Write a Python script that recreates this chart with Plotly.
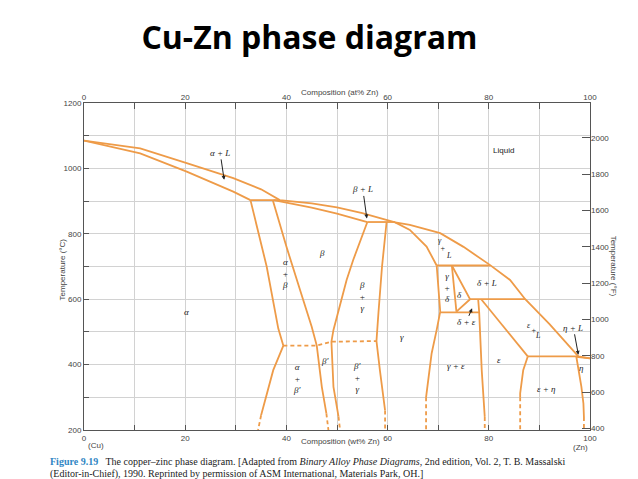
import plotly.graph_objects as go

# ---------------- data (wt% Zn, temperature °C) ----------------
liquidus_w = [0, 11.1, 20.3, 29.5, 35.0, 38.7, 45.0, 50.0, 55.0, 60.0, 61.5, 64.4, 70.4, 75.0, 80.2, 84.2, 87.2, 92.0, 96.7, 97.7, 100]
liquidus_t = [1085, 1061, 1016, 970, 936, 903, 893, 881, 863, 842, 835, 827, 802, 760, 705, 659, 600, 524, 445, 425, 419]

alpha_solidus_w = [0, 11.1, 20.3, 29.5, 32.9]
alpha_solidus_t = [1085, 1046, 990, 929, 903]

alpha_bound_w = [32.9, 36.1, 38.4, 39.4, 37.4, 35.4, 35.0]
alpha_bound_t = [903, 700, 510, 458, 383, 261, 245]
alpha_bound_dash_w = [35.0, 34.4]
alpha_bound_dash_t = [245, 200]

beta_left_w = [37.3, 40.0, 42.7, 45.0, 46.0, 47.0, 47.9]
beta_left_t = [903, 761, 628, 516, 458, 332, 251]
beta_left_dash_w = [47.9, 48.3]
beta_left_dash_t = [251, 200]

beta_solidus_w = [37.5, 45.0, 50.0, 56.0]
beta_solidus_t = [903, 880, 862, 836]

beta_right_w = [56.0, 53.2, 51.9, 49.3, 48.9, 49.3, 50.3]
beta_right_t = [836, 720, 659, 506, 470, 332, 241]
beta_right_dash_w = [50.3, 50.6]
beta_right_dash_t = [241, 200]

gamma_left_w = [59.8, 58.9, 58.2, 57.8, 58.5, 59.2, 59.5]
gamma_left_t = [836, 700, 560, 472, 380, 300, 260]
gamma_left_dash_w = [59.5, 59.5]
gamma_left_dash_t = [260, 200]

order_w = [39.4, 46.0, 48.9, 57.8]
order_t = [458, 458, 470, 472]

gamma_solidus_w = [61.5, 64.4, 67.7, 69.7]
gamma_solidus_t = [835, 812, 761, 703]

gamma_right_w = [69.7, 70.4, 69.7, 68.7, 67.7, 67.6]
gamma_right_t = [703, 562, 506, 434, 312, 300]
gamma_right_dash_w = [67.6, 67.6]
gamma_right_dash_t = [300, 200]

delta_left_w = [72.7, 73.6]
delta_left_t = [703, 562]
delta_right_w = [72.7, 76.3, 73.6]
delta_right_t = [703, 600, 562]

eps_left_w = [77.9, 78.1, 78.6, 79.2, 79.2]
eps_left_t = [600, 560, 383, 261, 240]
eps_left_dash_w = [79.2, 79.2]
eps_left_dash_t = [240, 200]

eps_solidus_w = [78.5, 87.7]
eps_solidus_t = [600, 425]

eps_right_w = [87.7, 86.8, 86.2, 86.2]
eps_right_t = [425, 383, 312, 300]
eps_right_dash_w = [86.2, 86.2]
eps_right_dash_t = [300, 200]

eta_w = [97.3, 98.3, 98.7, 98.8]
eta_t = [424, 332, 281, 240]
eta_dash_w = [98.8, 98.8]
eta_dash_t = [240, 200]
eta_solidus_w = [97.3, 100]
eta_solidus_t = [424, 419]

# isotherms: (w_start, w_end, T)
iso_w0 = [32.9, 56.0, 69.7, 70.4, 76.3, 87.7]
iso_w1 = [38.7, 61.5, 80.2, 78.1, 87.2, 97.7]
iso_t = [903, 836, 703, 560, 600, 425]

# region labels
label_text = ["Liquid", "β", "α<br>+<br>β", "α", "β<br>+<br>γ", "γ", "β′", "α<br>+<br>β′",
              "β′<br>+<br>γ", "γ<br>+<br>δ", "δ", "δ + <i>L</i>", "γ + ε", "ε", "η", "ε + η"]
label_w = [82.9, 47.0, 39.7, 20.3, 54.9, 62.8, 47.6, 42.0, 53.9, 71.7, 74.2, 79.7, 73.6, 82.1, 98.3, 91.4]
label_t = [1054, 740, 680, 562, 607, 485, 412, 356, 360, 636, 613, 649, 397, 414, 389, 325]

# staggered labels
stag_text = ["γ", "+", "<i>L</i>", "ε", "+", "<i>L</i>"]
stag_w = [70.4, 70.9, 72.1, 88.0, 88.9, 89.7]
stag_t = [779, 756, 734, 520, 505, 489]

# arrowed labels: text, tip (w, T), offset px
arrow_text = ["α + <i>L</i>", "β + <i>L</i>", "δ + ε", "η + <i>L</i>"]
arrow_w = [27.7, 55.9, 76.7, 97.7]
arrow_t = [965, 847, 572, 430]
arrow_ax = [-4, -4, -6, -5]
arrow_ay = [-27, -29, 14, -27]

wt_ticks = [0, 10, 20, 30, 40, 50, 60, 70, 80, 90, 100]
wt_labels = ["0", "", "20", "", "40", "", "60", "", "80", "", "100"]
c_ticks = [200, 300, 400, 500, 600, 700, 800, 900, 1000, 1100, 1200]
c_labels = ["200", "", "400", "", "600", "", "800", "", "1000", "", "1200"]
f_ticks = [400, 600, 800, 1000, 1200, 1400, 1600, 1800, 2000, 2200]

# ---------------- figure ----------------
ORANGE = "#EE9B48"
fig = go.Figure()

def add_line(w, t, dash="solid"):
    fig.add_trace(go.Scatter(x=w, y=t, mode="lines", showlegend=False, hoverinfo="skip",
                             line=dict(color=ORANGE, width=1.8, dash=dash)))

solid_curves = [(liquidus_w, liquidus_t), (alpha_solidus_w, alpha_solidus_t),
                (alpha_bound_w, alpha_bound_t), (beta_left_w, beta_left_t),
                (beta_solidus_w, beta_solidus_t), (beta_right_w, beta_right_t),
                (gamma_left_w, gamma_left_t), (gamma_solidus_w, gamma_solidus_t),
                (gamma_right_w, gamma_right_t), (delta_left_w, delta_left_t),
                (delta_right_w, delta_right_t), (eps_left_w, eps_left_t),
                (eps_solidus_w, eps_solidus_t), (eps_right_w, eps_right_t),
                (eta_w, eta_t), (eta_solidus_w, eta_solidus_t)]
dash_curves = [(alpha_bound_dash_w, alpha_bound_dash_t), (beta_left_dash_w, beta_left_dash_t),
               (beta_right_dash_w, beta_right_dash_t), (gamma_left_dash_w, gamma_left_dash_t),
               (gamma_right_dash_w, gamma_right_dash_t), (eps_left_dash_w, eps_left_dash_t),
               (eps_right_dash_w, eps_right_dash_t), (eta_dash_w, eta_dash_t),
               (order_w, order_t)]
for w, t in solid_curves:
    add_line(w, t)
for w, t in dash_curves:
    add_line(w, t, "4px,3px")
for a, b, t in zip(iso_w0, iso_w1, iso_t):
    add_line([a, b], [t, t])

# invisible trace for the secondary axes
fig.add_trace(go.Scatter(x=[None], y=[None], xaxis="x2", yaxis="y2", showlegend=False, hoverinfo="skip"))

LBL = dict(family="Liberation Serif", size=9, color="#222")
SMALL = dict(family="Liberation Serif", size=8, color="#222")
for txt, w, t in zip(label_text, label_w, label_t):
    if txt == "Liquid":
        fig.add_annotation(x=w, y=t, text=txt, showarrow=False,
                           font=dict(family="Liberation Sans", size=8, color="#222"))
    else:
        fig.add_annotation(x=w, y=t, text="<i>" + txt + "</i>", showarrow=False, font=LBL)
for txt, w, t in zip(stag_text, stag_w, stag_t):
    fig.add_annotation(x=w, y=t, text="<i>" + txt + "</i>", showarrow=False, font=SMALL)
for txt, w, t, ax, ay in zip(arrow_text, arrow_w, arrow_t, arrow_ax, arrow_ay):
    fig.add_annotation(x=w, y=t, text="<i>" + txt + "</i>", showarrow=True, ax=ax, ay=ay,
                       arrowhead=2, arrowsize=0.8, arrowwidth=1, arrowcolor="#222", font=LBL)

AX_FONT = dict(family="Liberation Sans", size=8, color="#444")
# axis titles and end labels
fig.add_annotation(xref="paper", yref="paper", x=0.506, y=-0.055, text="Composition (wt% Zn)",
                   showarrow=False, font=AX_FONT)
fig.add_annotation(xref="paper", yref="paper", x=0.506, y=1.052, text="Composition (at% Zn)",
                   showarrow=False, font=AX_FONT)
fig.add_annotation(xref="paper", yref="paper", x=0.004, y=-0.068, text="(Cu)", showarrow=False, font=AX_FONT)
fig.add_annotation(xref="paper", yref="paper", x=1.0, y=-0.072, text="(Zn)", showarrow=False, font=AX_FONT)
fig.add_annotation(xref="paper", yref="paper", x=-0.055, y=0.49, text="Temperature (°C)", textangle=-90,
                   showarrow=False, font=AX_FONT)
fig.add_annotation(xref="paper", yref="paper", x=1.06, y=0.50, text="Temperature (°F)", textangle=90,
                   showarrow=False, font=AX_FONT)

# caption
CAP = dict(family="Liberation Serif", size=10, color="#222")
fig.add_annotation(xref="paper", yref="paper", x=-0.071, y=-0.118, xanchor="left", showarrow=False, font=CAP,
                   text="<b><span style='color:#2f86c4'>Figure 9.19</span></b>   The copper–zinc phase diagram. "
                        "[Adapted from <i>Binary Alloy Phase Diagrams,</i> 2nd edition, Vol. 2, T. B. Massalski")
fig.add_annotation(xref="paper", yref="paper", x=-0.071, y=-0.158, xanchor="left", showarrow=False, font=CAP,
                   text="(Editor-in-Chief), 1990. Reprinted by permission of ASM International, Materials Park, OH.]")

GRID = "#d2d2d2"
LINE = "#555"
fig.update_layout(
    width=638, height=479,
    margin=dict(l=84, r=48, t=103, b=49),
    paper_bgcolor="white", plot_bgcolor="white",
    title=dict(text="<b>Cu-Zn phase diagram</b>", x=0.485, xanchor="center", y=0.921, yanchor="middle",
               font=dict(family="Open Sans", size=32, color="#000")),
    xaxis=dict(range=[0, 100], tickvals=wt_ticks, ticktext=wt_labels, ticks="inside", ticklen=5,
               tickcolor=LINE, showgrid=True, gridcolor=GRID, gridwidth=1, showline=True, linecolor=LINE,
               linewidth=1, mirror=True, zeroline=False, tickfont=AX_FONT),
    yaxis=dict(range=[200, 1200], tickvals=c_ticks, ticktext=c_labels, ticks="inside", ticklen=5,
               tickcolor=LINE, showgrid=True, gridcolor=GRID, gridwidth=1, showline=True, linecolor=LINE,
               linewidth=1, mirror=True, zeroline=False, tickfont=AX_FONT),
    xaxis2=dict(range=[0, 100], overlaying="x", side="top", anchor="y2", tickvals=wt_ticks, ticktext=wt_labels,
                ticks="inside", ticklen=6, tickcolor=LINE, showgrid=False, zeroline=False, tickfont=AX_FONT),
    yaxis2=dict(range=[392, 2192], overlaying="y", side="right", anchor="x2", tickvals=f_ticks,
                ticks="inside", ticklen=8, tickcolor=LINE, showgrid=False, zeroline=False, tickfont=AX_FONT),
)

fig.write_html("out.html", config={"displayModeBar": False},
               post_script="document.body.style.margin='0px';")
